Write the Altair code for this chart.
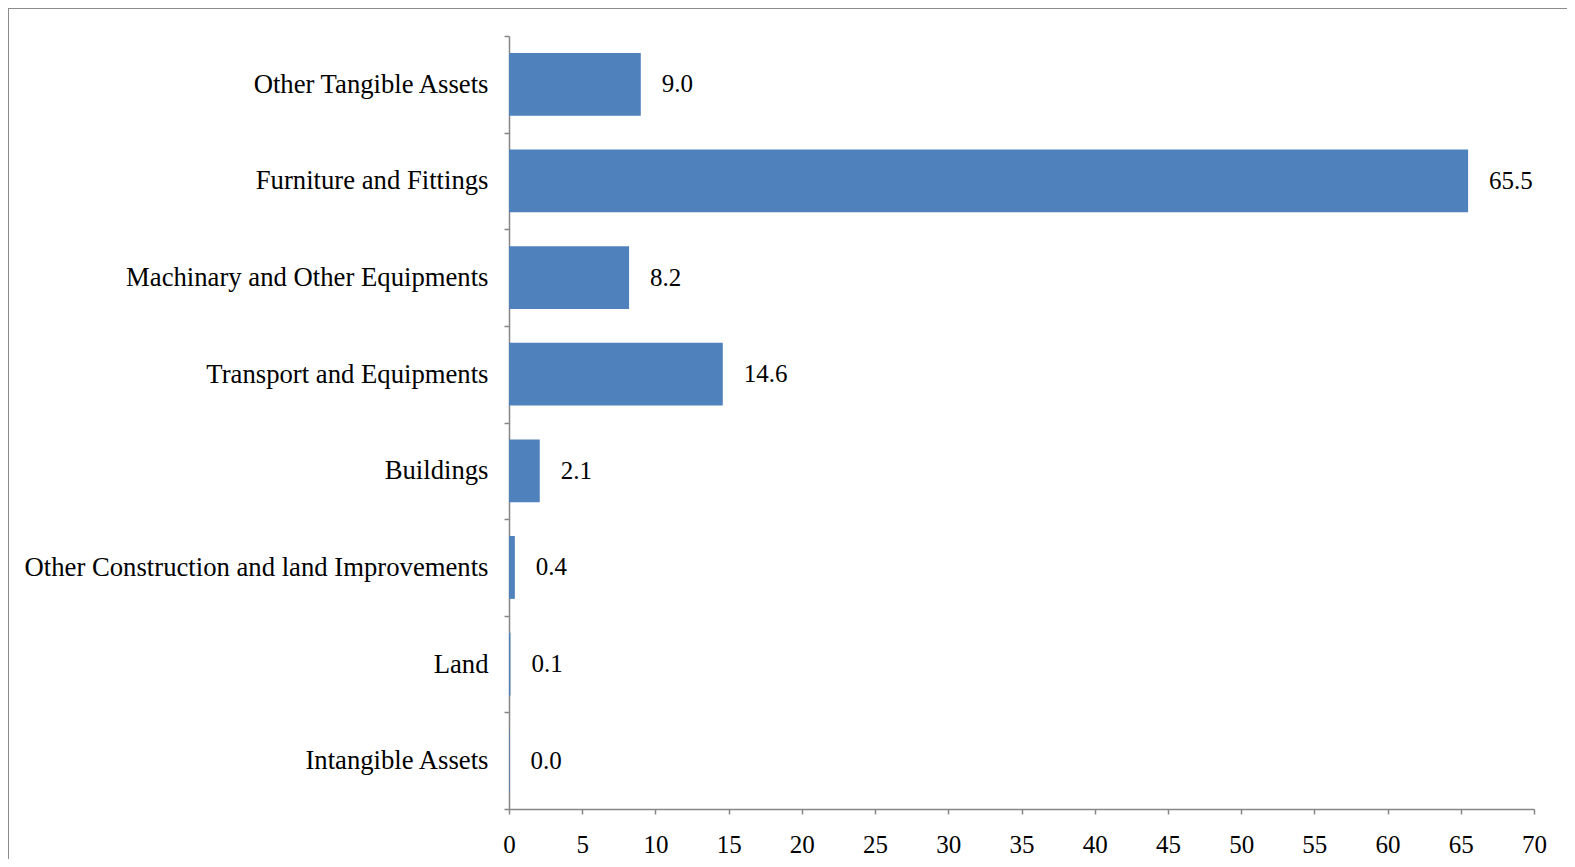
import altair as alt
import pandas as pd

categories = [
    "Other Tangible Assets",
    "Furniture and Fittings",
    "Machinary and Other Equipments",
    "Transport and Equipments",
    "Buildings",
    "Other Construction and land Improvements",
    "Land",
    "Intangible Assets",
]
values = [9.0, 65.5, 8.2, 14.6, 2.1, 0.4, 0.1, 0.04]
x_ticks = list(range(0, 75, 5))

df = pd.DataFrame({"category": categories, "value": values})

W, H = 1025, 773
FONT = "Liberation Serif"
GRAY = "#868686"

y_enc = alt.Y(
    "category:N",
    sort=categories,
    scale=alt.Scale(paddingInner=0, paddingOuter=0),
    axis=alt.Axis(
        title=None,
        tickBand="extent",
        grid=False,
        labelFont=FONT,
        labelFontSize=26.7,
        labelColor="black",
        labelPadding=16,
        tickSize=5,
        tickWidth=1.5,
        tickColor=GRAY,
        domainColor=GRAY,
        domainWidth=1.5,
        labelLimit=600,
    ),
)
x_enc = alt.X(
    "value:Q",
    scale=alt.Scale(domain=[0, 70], nice=False),
    axis=alt.Axis(
        title=None,
        values=x_ticks,
        grid=False,
        labelFont=FONT,
        labelFontSize=25,
        labelColor="black",
        labelPadding=18,
        tickSize=5,
        tickWidth=1.5,
        tickColor=GRAY,
        domainColor=GRAY,
        domainWidth=1.5,
        labelFlush=False,
    ),
)

base = alt.Chart(df)
bars = base.mark_bar(color="#4F81BD", height={"band": 0.65}).encode(x=x_enc, y=y_enc)
labels = base.mark_text(
    align="left", baseline="middle", dx=21, font=FONT, fontSize=25, color="black"
).encode(
    x=x_enc,
    y=y_enc,
    text=alt.Text("value:Q", format=".1f"),
)
frame = base.mark_rect(fill="transparent", stroke="#8c8c8c", strokeWidth=2).encode(
    x=alt.value(-501), x2=alt.value(1300), y=alt.value(-28), y2=alt.value(1000)
)

chart = (
    alt.layer(frame, bars, labels)
    .properties(
        width=W,
        height=H,
        autosize=alt.AutoSizeParams(type="none"),
        padding={"left": 501, "top": 28, "right": 33, "bottom": 50},
        view=alt.ViewBackground(stroke="transparent", strokeWidth=0),
    )
    .configure_view(strokeWidth=0, stroke="transparent")
    .configure_axis(grid=False)
    .configure(background="white")
)

chart.save("out.html", embed_options={"renderer": "svg", "actions": False})
